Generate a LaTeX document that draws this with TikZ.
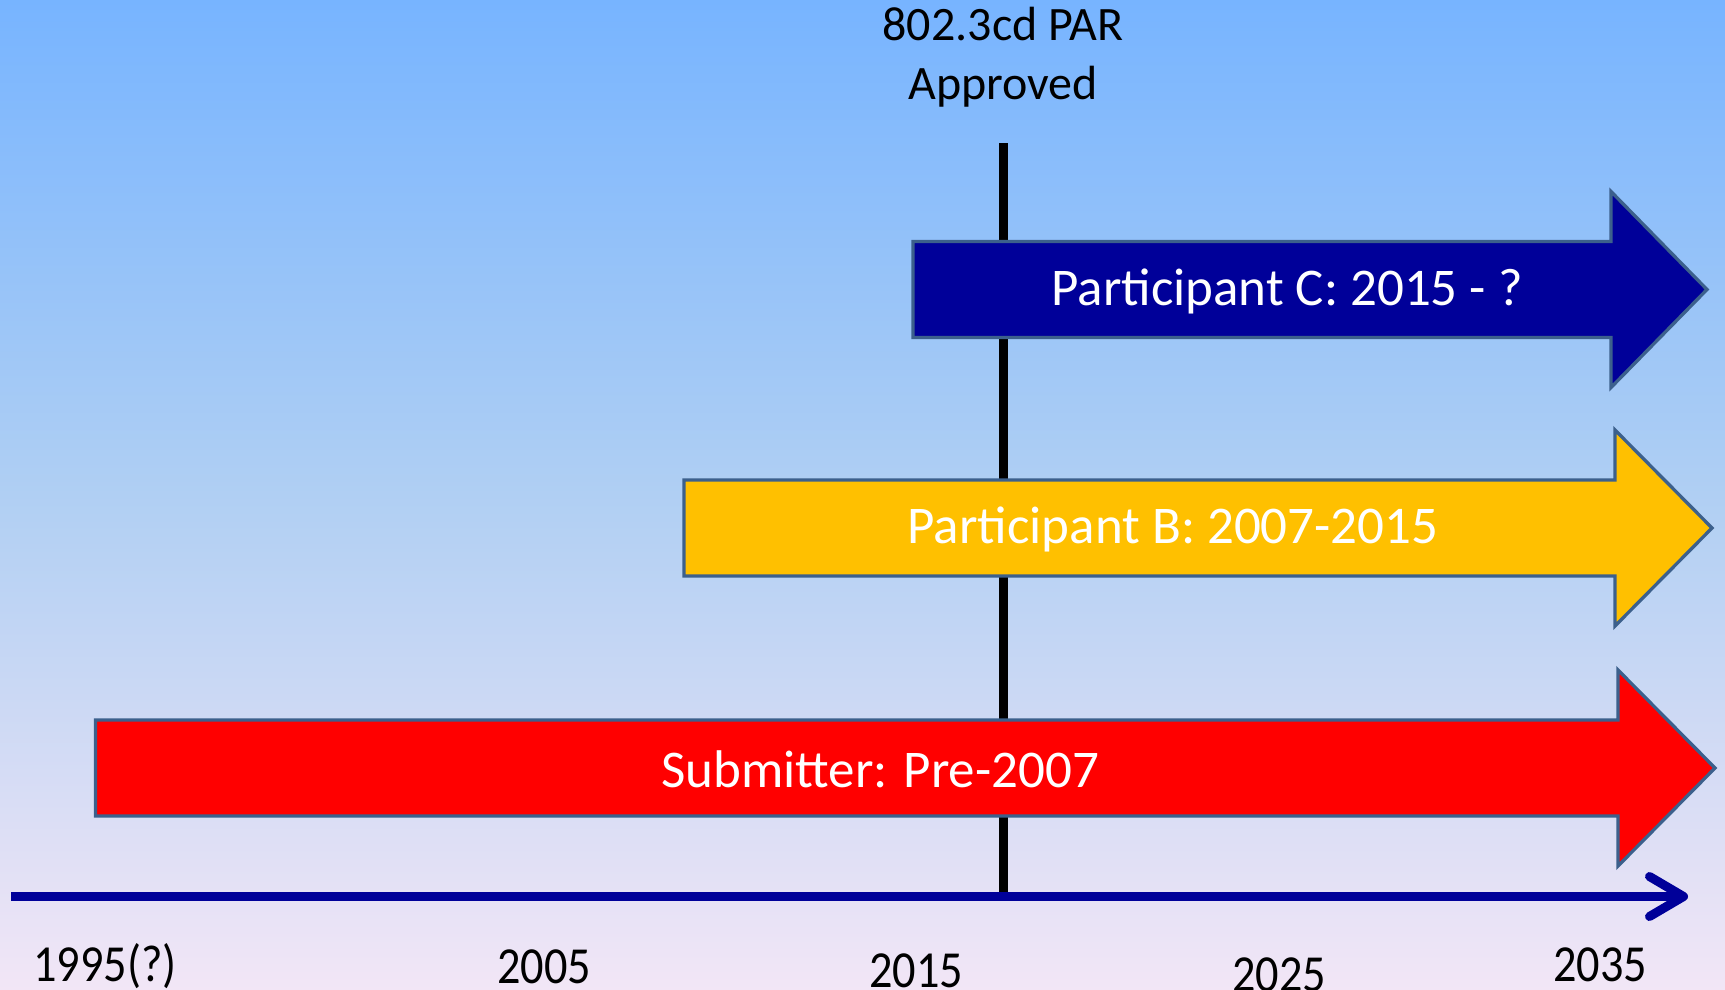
\documentclass[tikz,border=0pt]{standalone}
\usepackage{fontspec}
\setmainfont{Carlito}
\newfontfamily\yearfont[FakeStretch=0.89]{Carlito}
\usetikzlibrary{arrows.meta, positioning, calc}
\definecolor{skyTop}{RGB}{119, 180, 255}
\definecolor{skyMid}{RGB}{176, 207, 243}
\definecolor{skyBottom}{RGB}{242, 230, 246}
\definecolor{edgeColor}{RGB}{60, 96, 140}
\definecolor{axisColor}{RGB}{0, 0, 153}
\definecolor{partC}{RGB}{0, 0, 153}
\definecolor{partB}{RGB}{255, 192, 0}
\definecolor{partA}{RGB}{255, 0, 0}
\tikzstyle{span} = [draw=edgeColor, line width=3.3pt, line join=miter]
\tikzstyle{spanlabel} = [text=white, font=\fontsize{53}{60}\selectfont]
\tikzstyle{year} = [anchor=base, font=\yearfont\fontsize{52}{60}\selectfont]

\begin{document}
\begin{tikzpicture}[x=1pt, y=-1pt]
	\useasboundingbox (0,0) rectangle (1725,990);
	\fill[top color=skyTop, bottom color=skyBottom, middle color=skyMid] (0,0) rectangle (1725,990);

	% PAR marker
	\node (par) [align=center, font=\fontsize{48}{58.5}\selectfont] at (1003,57) {802.3cd PAR\\Approved};
	\coordinate (partop) at (1003,143);
	\coordinate (parbot) at (1003,896);
	\draw[line width=9pt] (partop) -- (parbot);

	% spans
	\draw[span, fill=partC] (913,241.5) -- (1611,241.5) -- (1611,191.5) -- (1707,289.5) -- (1611,387.5) -- (1611,337.5) -- (913,337.5) -- cycle;
	\node (partc) [spanlabel] at (1287,291) {Participant C: 2015 - ?};

	\draw[span, fill=partB] (684,480) -- (1615,480) -- (1615,430) -- (1712,528) -- (1615,626) -- (1615,576) -- (684,576) -- cycle;
	\node (partb) [spanlabel] at (1173,529.5) {Participant B: 2007-2015};

	\draw[span, fill=partA] (95.5,720) -- (1618,720) -- (1618,670) -- (1715,768) -- (1618,866) -- (1618,816) -- (95.5,816) -- cycle;
	\node (subm) [spanlabel] at (880,769.5) {Submitter: Pre-2007};

	% time axis
	\coordinate (axstart) at (11,896.5);
	\coordinate (axend) at (1688,896.5);
	\draw[axisColor, line width=9pt, -{Straight Barb[length=34pt, width=40pt, round]}] (axstart) -- (axend);

	\node (y1995) [year] at (105,981) {1995(?)};
	\node (y2005) [year] at (544,983) {2005};
	\node (y2015) [year] at (916,987) {2015};
	\node (y2025) [year] at (1279,991) {2025};
	\node (y2035) [year] at (1600,981) {2035};
\end{tikzpicture}
\end{document}
